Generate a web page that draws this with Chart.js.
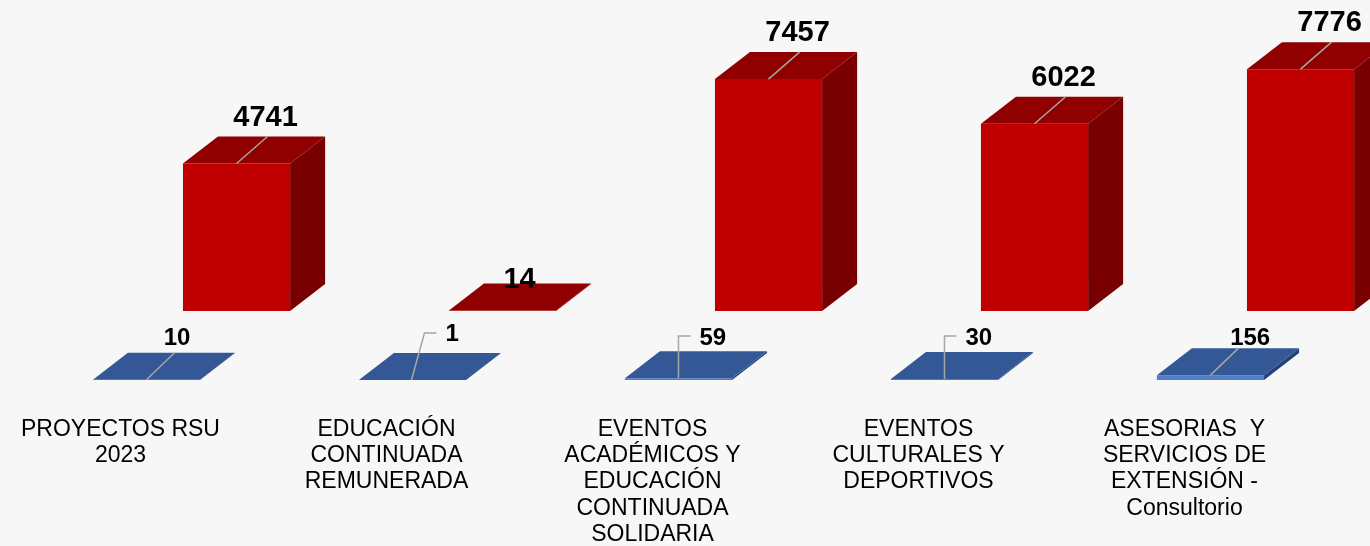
<!DOCTYPE html>
<html>
<head>
<meta charset="utf-8">
<script src="https://cdn.jsdelivr.net/npm/chart.js@4.4.1/dist/chart.umd.min.js"></script>
<style>
  html, body { margin: 0; padding: 0; background: #F7F7F7; overflow: hidden; }
  #wrap { width: 1370px; height: 546px; overflow: hidden; }
</style>
</head>
<body>
<div id="wrap"><canvas id="grafico" width="1400" height="546"></canvas></div>
<script>
// categorias (ejes) y valores
const categories = [
    ['PROYECTOS RSU', '2023'],
    ['EDUCACIÓN', 'CONTINUADA', 'REMUNERADA'],
    ['EVENTOS', 'ACADÉMICOS Y', 'EDUCACIÓN', 'CONTINUADA', 'SOLIDARIA'],
    ['EVENTOS', 'CULTURALES Y', 'DEPORTIVOS'],
    ['ASESORIAS  Y', 'SERVICIOS DE', 'EXTENSIÓN -', 'Consultorio']
];
const blueValues = [10, 1, 59, 30, 156];
const redValues = [4741, 14, 7457, 6022, 7776];

// tipo de linea guia para las etiquetas azules
const blueCallout = ['diag', 'slant', 'elbow', 'elbow', 'diag'];

const DEPTH_X = 35, DEPTH_Y = -27;

function poly(ctx, pts, color) {
    ctx.beginPath();
    ctx.moveTo(pts[0][0], pts[0][1]);
    for (let k = 1; k < pts.length; k++) ctx.lineTo(pts[k][0], pts[k][1]);
    ctx.closePath();
    ctx.fillStyle = color;
    ctx.fill();
}

function leader(ctx, pts) {
    ctx.beginPath();
    ctx.moveTo(pts[0][0], pts[0][1]);
    for (let k = 1; k < pts.length; k++) ctx.lineTo(pts[k][0], pts[k][1]);
    ctx.strokeStyle = '#A6A6A6';
    ctx.lineWidth = 1.5;
    ctx.stroke();
}

// dibuja caras superior y lateral (efecto 3D) + etiquetas
const bar3d = {
    id: 'bar3d',
    afterDatasetsDraw(chart) {
        const ctx = chart.ctx;
        ctx.save();
        chart.data.datasets.forEach((ds, di) => {
            const meta = chart.getDatasetMeta(di);
            meta.data.forEach((bar, i) => {
                const p = bar.getProps(['x', 'y', 'base', 'width'], true);
                const l = p.x - p.width / 2, r = p.x + p.width / 2;
                // cara lateral
                poly(ctx, [[r, p.y], [r + DEPTH_X, p.y + DEPTH_Y], [r + DEPTH_X, p.base + DEPTH_Y], [r, p.base]], ds.sideColor);
                // cara superior
                poly(ctx, [[l, p.y], [r, p.y], [r + DEPTH_X, p.y + DEPTH_Y], [l + DEPTH_X, p.y + DEPTH_Y]], ds.topColor);

                const value = ds.data[i];
                ctx.fillStyle = '#000';
                ctx.textBaseline = 'alphabetic';
                if (ds.isRed) {
                    ctx.font = 'bold 29px "Liberation Sans", Arial, sans-serif';
                    ctx.textAlign = 'center';
                    if (p.base - p.y < 5) {
                        ctx.fillText(value, p.x + 17, p.y + DEPTH_Y + 4);
                    } else {
                        leader(ctx, [[p.x, p.y], [p.x + 31, p.y + DEPTH_Y]]);
                        ctx.fillText(value, p.x + 29, p.y + DEPTH_Y - 11);
                    }
                } else {
                    ctx.font = 'bold 24px "Liberation Sans", Arial, sans-serif';
                    const baseLine = p.base - 35;
                    const type = blueCallout[i];
                    if (type === 'diag') {
                        leader(ctx, [[p.x, p.y], [p.x + 28, p.y + DEPTH_Y]]);
                        ctx.textAlign = 'center';
                        ctx.fillText(value, p.x + 30 + (p.base - p.y) * 2, baseLine);
                    } else if (type === 'slant') {
                        leader(ctx, [[p.x - 1, p.y], [p.x + 12, p.base - 47], [p.x + 24, p.base - 47]]);
                        ctx.textAlign = 'left';
                        ctx.fillText(value, p.x + 33, baseLine - 4);
                    } else {
                        leader(ctx, [[p.x, p.y], [p.x, p.base - 44], [p.x + 12, p.base - 44]]);
                        ctx.textAlign = 'left';
                        ctx.fillText(value, p.x + 21, baseLine);
                    }
                }
            });
        });
        ctx.restore();
    }
};

const ctx = document.getElementById('grafico').getContext('2d');
new Chart(ctx, {
    type: 'bar',
    data: {
        labels: categories,
        datasets: [
            {
                label: 'Serie 1',
                data: blueValues,
                yAxisID: 'y2',
                backgroundColor: '#4F7FC6',
                topColor: '#345796',
                sideColor: '#23407A',
                isRed: false
            },
            {
                label: 'Serie 2',
                data: redValues,
                yAxisID: 'y',
                backgroundColor: '#C00000',
                topColor: '#900000',
                sideColor: '#780000',
                isRed: true
            }
        ]
    },
    options: {
        responsive: false,
        animation: false,
        devicePixelRatio: 1,
        categoryPercentage: 0.677,
        barPercentage: 1.19,
        layout: { padding: { left: 58.5, right: 11.5, top: 0, bottom: 0 } },
        plugins: {
            legend: { display: false },
            tooltip: { enabled: false }
        },
        scales: {
            x: {
                grid: { display: false },
                border: { display: false },
                ticks: {
                    color: '#000',
                    font: { family: '"Liberation Sans", Arial, sans-serif', size: 23, lineHeight: 1.15 },
                    padding: 28,
                    labelOffset: -71,
                    maxRotation: 0,
                    autoSkip: false
                },
                afterFit: function(scale) { scale.height = 166; }
            },
            y: { display: false, min: -2219, max: 10000 },
            y2: { display: false, min: 0, max: 12219 }
        }
    },
    plugins: [bar3d]
});
</script>
</body>
</html>
